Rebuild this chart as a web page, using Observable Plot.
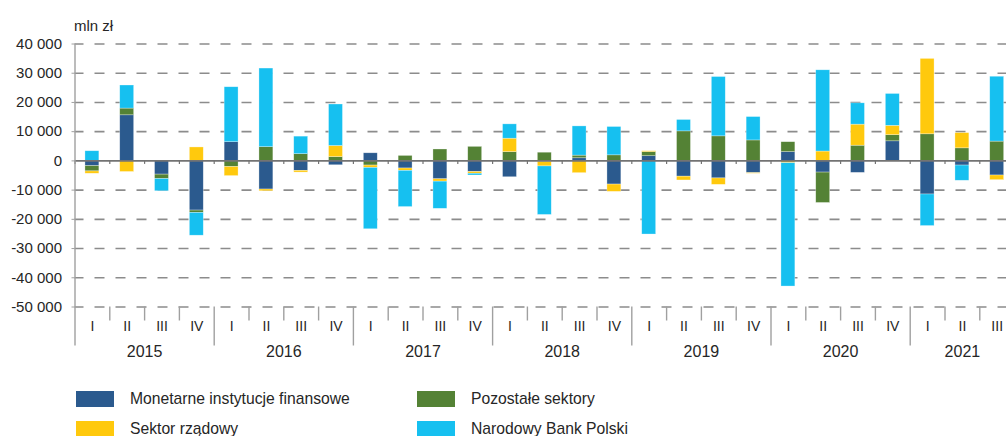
<!DOCTYPE html>
<html><head><meta charset="utf-8">
<script src="https://cdn.jsdelivr.net/npm/d3@7"></script>
<script src="https://cdn.jsdelivr.net/npm/@observablehq/plot@0.6"></script>
<style>
html,body{margin:0;padding:0;background:#fff;overflow:hidden;}
body{width:1006px;height:436px;font-family:"Liberation Sans",Arial,sans-serif;color:#262626;}
#chart svg{display:block;max-width:none;}
#legend{position:relative;height:58px;}
.item{position:absolute;display:flex;align-items:center;font-size:15.7px;line-height:16px;white-space:nowrap;}
.sw{width:38px;height:16px;margin-right:16px;flex:none;}
</style></head><body>
<div id="chart"></div>
<div id="legend"></div>
<script>
const years = ["2015","2016","2017","2018","2019","2020","2021"];
const quarterNames = ["I","II","III","IV"];
const quartersInYear = [4,4,4,4,4,4,3];
const seriesNames = ["Monetarne instytucje finansowe","Pozostałe sektory","Sektor rządowy","Narodowy Bank Polski"];
const seriesColors = ["#2b5a8e","#548235","#ffc90d","#16c0f0"];
const mif = [-1800, 15600, -4700, -17000, 6400, -9800, -3400, -1500, 2600, -2600, -6300, -3800, -5600, -300, 900, -8100, 1600, -5400, -6000, -4200, 3000, -4000, -4100, 6700, -11500, -1600, -5000];
const poz = [-1800, 2300, -1500, -800, -2100, 4700, 2300, 1300, -1600, 1700, 3900, 4800, 3000, 2800, 900, 1900, 1400, 10100, 8400, 7000, 3400, -10400, 5200, 2100, 9100, 4300, 6600];
const sr  = [-800, -3800, 0, 4600, -3100, -600, -600, 3800, -800, -800, -800, -600, 4600, -1600, -4200, -2500, 300, -1300, -2200, -200, -800, 3200, 7200, 3200, 25800, 5200, -1600];
const nbp = [3300, 7900, -4200, -7800, 18800, 26900, 6000, 14200, -21000, -12400, -9300, -600, 4900, -16600, 10000, 9700, -25200, 3900, 20300, 8000, -42200, 27800, 7300, 10900, -10800, -5200, 22200];
const yTicks = [40000,30000,20000,10000,0,-10000,-20000,-30000,-40000,-50000];
const yTickLabels = ["40 000","30 000","20 000","10 000","0","-10 000","-20 000","-30 000","-40 000","-50 000"];
const yUnit = "mln zł";

// periods
const periods = [];
years.forEach((y, yi) => { for (let q = 0; q < quartersInYear[yi]; q++) periods.push({key: y + " " + quarterNames[q], year: y, q: quarterNames[q], first: q === 0}); });
const keys = periods.map(p => p.key);
const qLabel = new Map(periods.map(p => [p.key, p.q]));
const seriesValues = [mif, poz, sr, nbp];
const rows = [];
keys.forEach((k, i) => seriesNames.forEach((s, si) => rows.push({period: k, series: s, value: seriesValues[si][i]})));
const yLab = new Map(yTicks.map((t, i) => [t, yTickLabels[i]]));

const step = 34.8;
const x0 = 74.5;
const W = 1006, H = 378;
const gridVals = yTicks.filter(t => t !== 0);
const yearStarts = periods.filter(p => p.first);
const qStarts = periods.filter(p => !p.first);
const fullYearMid = periods.filter(p => p.q === "II" && quartersInYear[years.indexOf(p.year)] === 4);
const partYearMid = periods.filter(p => p.q === "II" && quartersInYear[years.indexOf(p.year)] === 3);
const yMin = -50000;
const pxPer = (306.5 - 43.5) / 90000;
const tickShort = yMin - 14 / pxPer;
const tickLong = yMin - 39 / pxPer;

const chart = Plot.plot({
  width: W, height: H,
  marginLeft: x0, marginRight: 0, marginTop: 43.5, marginBottom: H - 306.5,
  style: {fontFamily: '"Liberation Sans", Arial, sans-serif', fontSize: "15px", color: "#262626", background: "white", overflow: "hidden"},
  x: {type: "band", domain: keys, range: [x0, x0 + step * keys.length], paddingInner: 0.6, paddingOuter: 0.3, round: false, axis: null},
  y: {domain: [-50000, 40000], axis: null},
  color: {domain: seriesNames, range: seriesColors},
  marks: [
    Plot.ruleY(gridVals, {stroke: "#8c8c8c", strokeWidth: 1.6, strokeDasharray: "10,11", strokeDashoffset: 1}),
    Plot.barY(rows, Plot.stackY({x: "period", y: "value", fill: "series", stroke: "white", strokeWidth: 0.6, strokeOpacity: 0.5})),
    Plot.ruleY([0], {stroke: "#737373", strokeWidth: 1.6}),
    // small ticks on zero line at quarter boundaries
    Plot.ruleX(periods, {x: "key", dx: -step / 2, y1: 0, y2: -1200, stroke: "#737373", strokeWidth: 1.2}),
    // y axis line + first year separator
    Plot.ruleX([periods[0]], {x: "key", dx: -step / 2, y1: 40000, y2: tickLong, stroke: "#a0a0a0", strokeWidth: 1.4}),
    Plot.ruleX(yearStarts.slice(1), {x: "key", dx: -step / 2, y1: yMin, y2: tickLong, stroke: "#a0a0a0", strokeWidth: 1.4}),
    Plot.ruleX(qStarts, {x: "key", dx: -step / 2, y1: yMin, y2: tickShort, stroke: "#a0a0a0", strokeWidth: 1.4}),
    Plot.axisY({ticks: yTicks, tickFormat: d => yLab.get(d), tickSize: 3, tickPadding: 10, stroke: "#a0a0a0", fontSize: 15, label: null}),
    Plot.axisX({tickSize: 0, tickPadding: 14, tickFormat: d => qLabel.get(d), fontSize: 14, label: null, fill: "#262626"}),
    Plot.text(fullYearMid, {x: "key", text: "year", frameAnchor: "bottom", dx: step / 2, dy: 44.5, lineAnchor: "middle", fontSize: 16}),
    Plot.text(partYearMid, {x: "key", text: "year", frameAnchor: "bottom", dy: 44.5, lineAnchor: "middle", fontSize: 16}),
    Plot.text([yUnit], {frameAnchor: "top-left", text: d => d, dx: -1, dy: -13, lineAnchor: "bottom", textAnchor: "start", fontSize: 15})
  ]
});
document.getElementById("chart").appendChild(chart);

// legend (2 columns: MIF / Sektor rządowy ; Pozostałe / NBP)
const legend = document.getElementById("legend");
const legendPos = [[76, 13], [417, 13], [76, 43], [417, 43]];
const legendOrder = [0, 1, 2, 3];
legendOrder.forEach((si, i) => {
  const d = document.createElement("div");
  d.className = "item";
  d.style.left = legendPos[i][0] + "px";
  d.style.top = legendPos[i][1] + "px";
  d.innerHTML = `<span class="sw" style="background:${seriesColors[si]}"></span><span>${seriesNames[si]}</span>`;
  legend.appendChild(d);
});
</script>
</body></html>
